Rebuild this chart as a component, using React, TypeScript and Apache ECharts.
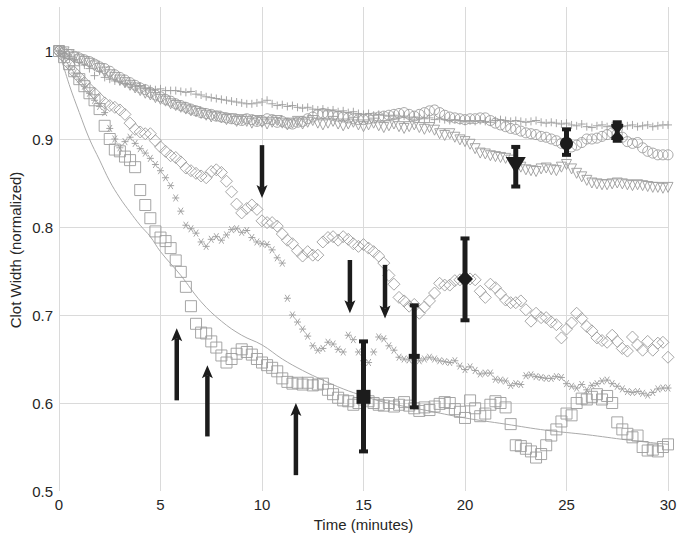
import React, { useEffect, useRef } from 'react';
import * as echarts from 'echarts';

// Sampling times (minutes)
const TIMES = [
  0, 0.25, 0.5, 0.75, 1, 1.25, 1.5, 1.75, 2, 2.25, 2.5, 2.75, 3, 3.25, 3.5, 3.75,
  4, 4.25, 4.5, 4.75, 5, 5.25, 5.5, 5.75, 6, 6.25, 6.5, 6.75, 7, 7.25, 7.5, 7.75,
  8, 8.25, 8.5, 8.75, 9, 9.25, 9.5, 9.75, 10, 10.25, 10.5, 10.75, 11, 11.25, 11.5, 11.75,
  12, 12.25, 12.5, 12.75, 13, 13.25, 13.5, 13.75, 14, 14.25, 14.5, 14.75, 15, 15.25, 15.5, 15.75,
  16, 16.25, 16.5, 16.75, 17, 17.25, 17.5, 17.75, 18, 18.25, 18.5, 18.75, 19, 19.25, 19.5, 19.75,
  20, 20.25, 20.5, 20.75, 21, 21.25, 21.5, 21.75, 22, 22.25, 22.5, 22.75, 23, 23.25, 23.5, 23.75,
  24, 24.25, 24.5, 24.75, 25, 25.25, 25.5, 25.75, 26, 26.25, 26.5, 26.75, 27, 27.25, 27.5, 27.75,
  28, 28.25, 28.5, 28.75, 29, 29.25, 29.5, 29.75, 30,
];

const CIRCLES = [
  1.000, 0.998, 0.996, 0.994, 0.992, 0.990, 0.988, 0.985, 0.982, 0.980, 0.977, 0.973,
  0.970, 0.967, 0.964, 0.961, 0.958, 0.956, 0.953, 0.950, 0.948, 0.945, 0.943, 0.940,
  0.938, 0.936, 0.934, 0.932, 0.930, 0.929, 0.928, 0.926, 0.925, 0.924, 0.923, 0.922,
  0.921, 0.923, 0.922, 0.920, 0.921, 0.923, 0.922, 0.919, 0.920, 0.918, 0.917, 0.919,
  0.920, 0.923, 0.925, 0.928, 0.929, 0.928, 0.927, 0.926, 0.925, 0.924, 0.923, 0.922,
  0.922, 0.923, 0.924, 0.925, 0.926, 0.927, 0.928, 0.929, 0.930, 0.928, 0.926, 0.928,
  0.930, 0.932, 0.933, 0.930, 0.927, 0.925, 0.924, 0.923, 0.922, 0.923, 0.923, 0.924,
  0.924, 0.921, 0.918, 0.916, 0.914, 0.912, 0.911, 0.909, 0.907, 0.906, 0.905, 0.903,
  0.902, 0.900, 0.898, 0.895, 0.893, 0.891, 0.893, 0.896, 0.900, 0.900, 0.901, 0.903,
  0.905, 0.907, 0.906, 0.902, 0.897, 0.895, 0.896, 0.890, 0.886, 0.884, 0.882, 0.882,
  0.882,
];

const TRIANGLES = [
  1.000, 0.999, 0.996, 0.993, 0.990, 0.988, 0.986, 0.983, 0.980, 0.976, 0.973, 0.970,
  0.967, 0.964, 0.961, 0.958, 0.955, 0.952, 0.950, 0.947, 0.945, 0.943, 0.940, 0.938,
  0.936, 0.934, 0.932, 0.931, 0.929, 0.927, 0.925, 0.926, 0.924, 0.922, 0.923, 0.920,
  0.922, 0.920, 0.918, 0.921, 0.919, 0.917, 0.919, 0.921, 0.918, 0.916, 0.918, 0.920,
  0.917, 0.919, 0.921, 0.918, 0.916, 0.918, 0.920, 0.917, 0.915, 0.917, 0.919, 0.916,
  0.914, 0.916, 0.918, 0.915, 0.913, 0.915, 0.917, 0.914, 0.912, 0.914, 0.916, 0.913,
  0.911, 0.913, 0.910, 0.906, 0.904, 0.906, 0.902, 0.899, 0.897, 0.894, 0.889, 0.884,
  0.883, 0.881, 0.880, 0.879, 0.878, 0.876, 0.872, 0.868, 0.865, 0.864, 0.863, 0.866,
  0.867, 0.865, 0.864, 0.868, 0.871, 0.866, 0.861, 0.857, 0.853, 0.850, 0.849, 0.848,
  0.848, 0.849, 0.850, 0.849, 0.848, 0.847, 0.848, 0.847, 0.846, 0.845, 0.845, 0.844,
  0.845,
];

const PLUSES = [
  1.000, 0.997, 0.994, 0.990, 0.987, 0.984, 0.980, 0.972, 0.977, 0.970, 0.968, 0.966,
  0.965, 0.963, 0.962, 0.960, 0.960, 0.958, 0.957, 0.956, 0.957, 0.955, 0.955, 0.955,
  0.954, 0.953, 0.954, 0.951, 0.950, 0.948, 0.947, 0.946, 0.945, 0.944, 0.943, 0.942,
  0.941, 0.940, 0.940, 0.941, 0.942, 0.944, 0.940, 0.938, 0.939, 0.937, 0.938, 0.936,
  0.935, 0.936, 0.934, 0.933, 0.934, 0.932, 0.933, 0.931, 0.932, 0.930, 0.931, 0.929,
  0.928, 0.929, 0.927, 0.928, 0.927, 0.926, 0.927, 0.925, 0.926, 0.924, 0.925, 0.924,
  0.923, 0.924, 0.922, 0.923, 0.922, 0.921, 0.922, 0.921, 0.920, 0.921, 0.920, 0.921,
  0.920, 0.919, 0.921, 0.922, 0.921, 0.920, 0.921, 0.920, 0.919, 0.920, 0.921, 0.919,
  0.918, 0.919, 0.918, 0.917, 0.918, 0.916, 0.915, 0.917, 0.914, 0.913, 0.915, 0.916,
  0.914, 0.915, 0.916, 0.914, 0.915, 0.916, 0.914, 0.915, 0.916, 0.914, 0.915, 0.916,
  0.916,
];

const DIAMONDS = [
  1.000, 0.993, 0.985, 0.976, 0.970, 0.964, 0.957, 0.952, 0.946, 0.941, 0.938, 0.936,
  0.933, 0.928, 0.918, 0.911, 0.908, 0.906, 0.906, 0.898, 0.891, 0.886, 0.881, 0.879,
  0.874, 0.867, 0.864, 0.861, 0.858, 0.856, 0.863, 0.865, 0.862, 0.852, 0.840, 0.826,
  0.816, 0.821, 0.825, 0.820, 0.807, 0.805, 0.805, 0.801, 0.792, 0.785, 0.781, 0.773,
  0.767, 0.772, 0.768, 0.768, 0.783, 0.788, 0.789, 0.785, 0.789, 0.786, 0.781, 0.778,
  0.780, 0.776, 0.772, 0.767, 0.759, 0.745, 0.735, 0.720, 0.716, 0.710, 0.712, 0.702,
  0.709, 0.716, 0.725, 0.736, 0.734, 0.734, 0.739, 0.740, 0.743, 0.741, 0.740, 0.727,
  0.720, 0.735, 0.731, 0.724, 0.717, 0.714, 0.714, 0.716, 0.706, 0.693, 0.702, 0.697,
  0.697, 0.692, 0.689, 0.674, 0.684, 0.691, 0.702, 0.696, 0.687, 0.682, 0.674, 0.671,
  0.669, 0.677, 0.670, 0.662, 0.659, 0.675, 0.666, 0.660, 0.670, 0.660, 0.668, 0.669,
  0.652,
];

const STARS = [
  1.000, 0.992, 0.983, 0.975, 0.968, 0.960, 0.952, 0.944, 0.937, 0.930, 0.912, 0.900,
  0.890, 0.897, 0.902, 0.895, 0.889, 0.884, 0.878, 0.871, 0.864, 0.856, 0.847, 0.833,
  0.818, 0.802, 0.798, 0.793, 0.783, 0.778, 0.786, 0.789, 0.785, 0.791, 0.797, 0.798,
  0.794, 0.796, 0.788, 0.783, 0.781, 0.780, 0.774, 0.765, 0.759, 0.719, 0.700, 0.692,
  0.684, 0.676, 0.665, 0.660, 0.662, 0.669, 0.667, 0.661, 0.658, 0.677, 0.672, 0.658,
  0.648, 0.646, 0.658, 0.675, 0.673, 0.665, 0.660, 0.652, 0.650, 0.649, 0.650, 0.648,
  0.650, 0.652, 0.650, 0.648, 0.647, 0.646, 0.648, 0.642, 0.638, 0.641, 0.637, 0.633,
  0.634, 0.634, 0.627, 0.626, 0.625, 0.620, 0.622, 0.621, 0.631, 0.632, 0.630, 0.629,
  0.628, 0.628, 0.630, 0.629, 0.622, 0.619, 0.617, 0.621, 0.615, 0.620, 0.622, 0.625,
  0.626, 0.622, 0.619, 0.616, 0.613, 0.612, 0.613, 0.611, 0.609, 0.612, 0.616, 0.617,
  0.617,
];

const SQUARES = [
  1.000, 0.993, 0.985, 0.977, 0.968, 0.960, 0.952, 0.944, 0.934, 0.915, 0.900, 0.888,
  0.886, 0.880, 0.876, 0.868, 0.842, 0.825, 0.810, 0.795, 0.788, 0.784, 0.776, 0.762,
  0.749, 0.732, 0.710, 0.690, 0.680, 0.679, 0.670, 0.663, 0.654, 0.646, 0.650, 0.656,
  0.661, 0.658, 0.655, 0.650, 0.646, 0.643, 0.640, 0.636, 0.628, 0.624, 0.622, 0.623,
  0.621, 0.623, 0.620, 0.621, 0.622, 0.615, 0.610, 0.606, 0.603, 0.602, 0.598, 0.600,
  0.604, 0.602, 0.600, 0.598, 0.597, 0.600, 0.596, 0.598, 0.601, 0.597, 0.594, 0.591,
  0.595, 0.592, 0.596, 0.599, 0.601, 0.600, 0.593, 0.590, 0.583, 0.603, 0.594, 0.585,
  0.588, 0.598, 0.602, 0.600, 0.595, 0.576, 0.552, 0.551, 0.548, 0.545, 0.538, 0.542,
  0.552, 0.563, 0.570, 0.579, 0.588, 0.586, 0.600, 0.605, 0.604, 0.607, 0.610, 0.604,
  0.608, 0.600, 0.578, 0.570, 0.565, 0.561, 0.563, 0.550, 0.546, 0.547, 0.545, 0.550,
  0.553,
];

// Fitted curve
const FIT_T = [0, 0.5, 1, 1.5, 2, 2.5, 3, 3.5, 4, 4.5, 5, 6, 7, 8, 9, 10, 11, 12, 13, 14, 15, 16, 18, 20, 22, 24, 26, 28, 30];
const FIT_V = [1.0, 0.962, 0.93, 0.9, 0.876, 0.852, 0.833, 0.817, 0.802, 0.789, 0.772, 0.745, 0.715, 0.693, 0.677, 0.666, 0.65, 0.637, 0.626, 0.616, 0.608, 0.601, 0.592, 0.583, 0.576, 0.569, 0.564, 0.558, 0.553];

// Mean values with error bars
const MEAN_X = [15, 17.5, 20, 22.5, 25, 27.5];
const MEAN_Y = [0.607, 0.653, 0.741, 0.87, 0.895, 0.908];
const MEAN_LO = [0.545, 0.595, 0.694, 0.846, 0.882, 0.898];
const MEAN_HI = [0.67, 0.711, 0.787, 0.891, 0.911, 0.919];

// Arrows: x, start value, tip value
const ARROW_X = [10, 14.33, 16.06, 5.8, 7.31, 11.67];
const ARROW_FROM = [0.893, 0.7625, 0.757, 0.603, 0.562, 0.518];
const ARROW_TO = [0.833, 0.702, 0.696, 0.685, 0.643, 0.6];

const X_TICKS = { min: 0, max: 30, interval: 5 };

// Styles
const GREY = '#9c9c9c';
const BLACK = '#1c1c1c';
const TEXT = '#262626';
const FONT = '"Liberation Sans", Arial, Helvetica, sans-serif';
const HOURGLASS = 'path://M0,0 L12,0 L12,3 L7.5,9 L12,15 L12,18 L0,18 L0,15 L4.5,9 L0,3 Z';
const ASTERISK = 'path://M0,5 L10,5 M1.8,1.2 L8.2,8.8 M1.8,8.8 L8.2,1.2';
const PLUS = 'path://M5,0 L5,10 M0,5 L10,5';
const MEAN_STYLE = [
  { symbol: 'rect', symbolSize: 14, symbolRotate: 0 },
  { symbol: 'rect', symbolSize: [11, 5], symbolRotate: 0 },
  { symbol: 'diamond', symbolSize: 16, symbolRotate: 0 },
  { symbol: 'triangle', symbolSize: [20, 17], symbolRotate: 180 },
  { symbol: 'circle', symbolSize: 13, symbolRotate: 0 },
  { symbol: HOURGLASS, symbolSize: [12, 16], symbolRotate: 0 },
];

const pairs = (ys: number[]) => TIMES.map((t, i) => [t, ys[i]]);

const openMarker = (name: string, data: number[], symbol: string, size: number, rotate = 0, z = 2) => ({
  name,
  type: 'scatter',
  data: pairs(data),
  symbol,
  symbolSize: size,
  symbolRotate: rotate,
  silent: true,
  z,
  itemStyle: { color: 'rgba(0,0,0,0)', borderColor: GREY, borderWidth: 0.9, opacity: 1 },
});

export default function App() {
  const ref = useRef<HTMLDivElement>(null);

  useEffect(() => {
    if (!ref.current) return;
    const chart = echarts.init(ref.current, undefined, { renderer: 'svg' });

    const option: any = {
      animation: false,
      backgroundColor: '#ffffff',
      grid: { left: 59, right: 16, top: 7, bottom: 46, containLabel: false },
      xAxis: {
        type: 'value',
        min: X_TICKS.min,
        max: X_TICKS.max,
        interval: X_TICKS.interval,
        name: 'Time (minutes)',
        nameLocation: 'middle',
        nameGap: 25,
        nameTextStyle: { color: TEXT, fontSize: 15, fontFamily: FONT },
        axisLine: { show: false },
        axisTick: { show: false },
        axisLabel: { color: TEXT, fontSize: 15, fontFamily: FONT, margin: 6 },
        splitLine: { show: true, lineStyle: { color: '#dadada', width: 1 } },
      },
      yAxis: {
        type: 'value',
        min: 0.5,
        max: 1.05,
        interval: 0.1,
        axisLine: { show: false },
        axisTick: { show: false },
        axisLabel: {
          color: TEXT,
          fontSize: 15,
          fontFamily: FONT,
          margin: 6,
          showMaxLabel: false,
          formatter: (v: number) => (v > 1.01 ? '' : String(Math.round(v * 10) / 10)),
        },
        splitLine: {
          show: true,
          showMinLine: false,
          showMaxLine: false,
          lineStyle: { color: '#dadada', width: 1 },
        },
      },
      graphic: [
        {
          type: 'text',
          x: 15,
          y: 250,
          rotation: Math.PI / 2,
          silent: true,
          style: {
            text: 'Clot Width (normalized)',
            fontSize: 15,
            fontFamily: FONT,
            fill: TEXT,
            align: 'center',
            verticalAlign: 'middle',
          },
        },
      ],
      series: [
        {
          name: 'fit',
          type: 'line',
          data: FIT_T.map((t, i) => [t, FIT_V[i]]),
          smooth: 0.4,
          showSymbol: false,
          symbol: 'none',
          silent: true,
          z: 1,
          lineStyle: { color: '#aaaaaa', width: 1 },
        },
        openMarker('plus', PLUSES, PLUS, 8),
        openMarker('circle', CIRCLES, 'circle', 10),
        openMarker('triangle', TRIANGLES, 'triangle', 10, 180),
        openMarker('diamond', DIAMONDS, 'diamond', 12),
        openMarker('star', STARS, ASTERISK, 7),
        openMarker('square', SQUARES, 'rect', 11),
        {
          name: 'errorbars',
          type: 'custom',
          silent: true,
          z: 5,
          data: MEAN_X.map((x, i) => [x, MEAN_LO[i], MEAN_HI[i]]),
          encode: { x: 0, y: [1, 2] },
          renderItem: (_params: any, api: any) => {
            const x = api.value(0);
            const top = api.coord([x, api.value(2)]);
            const bot = api.coord([x, api.value(1)]);
            const w = 5;
            const capW = 9;
            const capH = 4;
            return {
              type: 'group',
              children: [
                {
                  type: 'rect',
                  shape: { x: top[0] - w / 2, y: top[1], width: w, height: bot[1] - top[1] },
                  style: { fill: BLACK },
                },
                {
                  type: 'rect',
                  shape: { x: top[0] - capW / 2, y: top[1] - capH / 2, width: capW, height: capH },
                  style: { fill: BLACK },
                },
                {
                  type: 'rect',
                  shape: { x: bot[0] - capW / 2, y: bot[1] - capH / 2, width: capW, height: capH },
                  style: { fill: BLACK },
                },
              ],
            };
          },
        },
        {
          name: 'means',
          type: 'scatter',
          silent: true,
          z: 6,
          data: MEAN_X.map((x, i) => ({
            value: [x, MEAN_Y[i]],
            symbol: MEAN_STYLE[i].symbol,
            symbolSize: MEAN_STYLE[i].symbolSize,
            symbolRotate: MEAN_STYLE[i].symbolRotate,
          })),
          itemStyle: { color: BLACK, borderWidth: 0, opacity: 1 },
        },
        {
          name: 'arrows',
          type: 'custom',
          silent: true,
          z: 7,
          data: ARROW_X.map((x, i) => [x, ARROW_FROM[i], ARROW_TO[i]]),
          encode: { x: 0, y: [1, 2] },
          renderItem: (_params: any, api: any) => {
            const x = api.value(0);
            const a = api.coord([x, api.value(1)]);
            const b = api.coord([x, api.value(2)]);
            const dir = b[1] > a[1] ? 1 : -1;
            const headLen = 13;
            const halfW = 5.5;
            const notch = 3;
            const shaftW = 4.5;
            const base = b[1] - dir * headLen;
            const shaftEnd = base + dir * notch;
            const y0 = Math.min(a[1], shaftEnd);
            const h = Math.abs(shaftEnd - a[1]);
            return {
              type: 'group',
              children: [
                {
                  type: 'rect',
                  shape: { x: a[0] - shaftW / 2, y: y0, width: shaftW, height: h },
                  style: { fill: BLACK },
                },
                {
                  type: 'polygon',
                  shape: {
                    points: [
                      [b[0], b[1]],
                      [b[0] - halfW, base],
                      [b[0], shaftEnd],
                      [b[0] + halfW, base],
                    ],
                  },
                  style: { fill: BLACK },
                },
              ],
            };
          },
        },
      ],
    };

    chart.setOption(option);
    return () => {
      chart.dispose();
    };
  }, []);

  return (
    <div
      ref={ref}
      style={{ position: 'fixed', left: 0, top: 0, width: 684, height: 537, background: '#fff' }}
    />
  );
}
